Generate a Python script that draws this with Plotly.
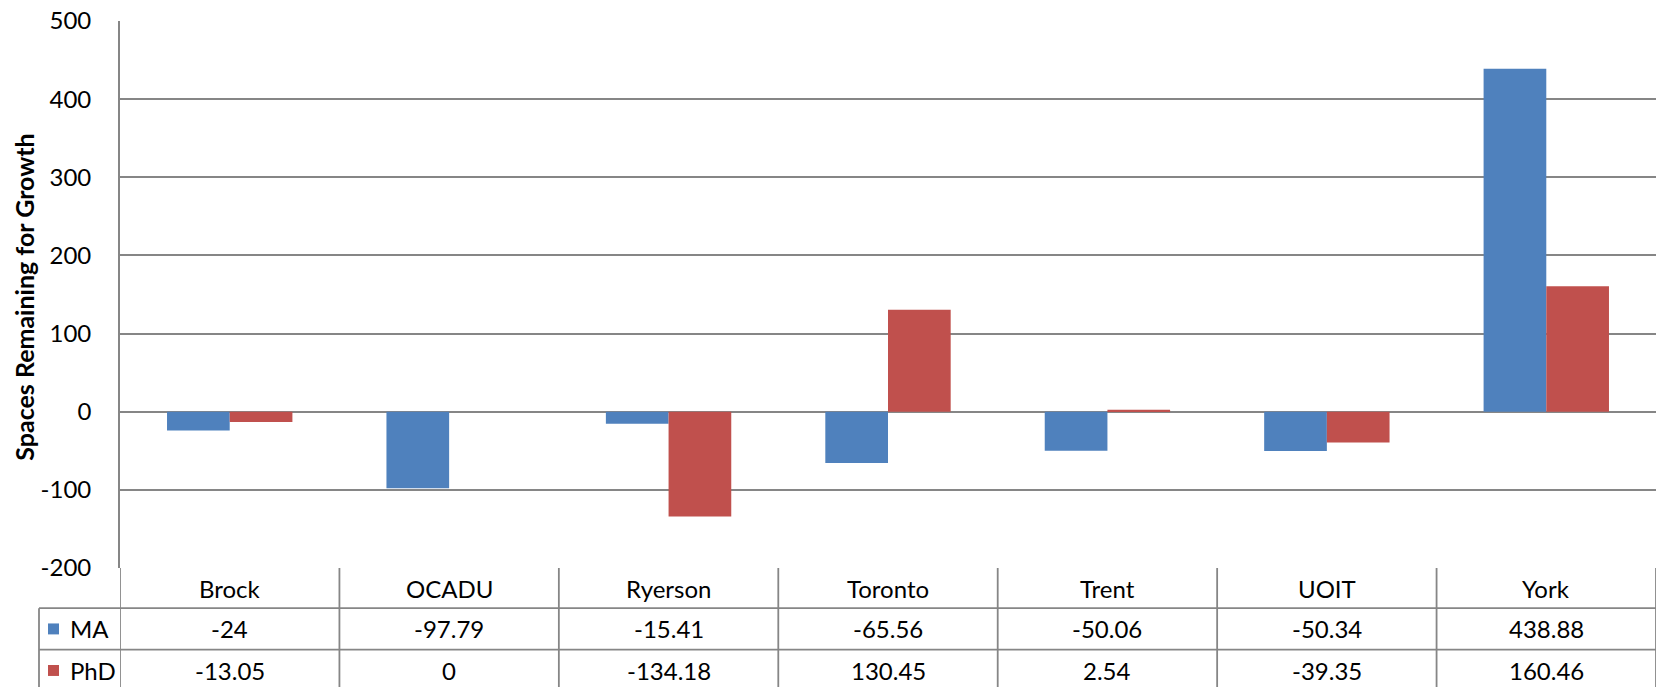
import plotly.graph_objects as go

# Graduate spaces remaining for growth, by institution
universities = ["Brock", "OCADU", "Ryerson", "Toronto", "Trent", "UOIT", "York"]
ma_values = [-24, -97.79, -15.41, -65.56, -50.06, -50.34, 438.88]
phd_values = [-13.05, 0, -134.18, 130.45, 2.54, -39.35, 160.46]
series_names = ["MA", "PhD"]
series_colors = ["#4F81BD", "#C0504D"]
y_ticks = [-200, -100, 0, 100, 200, 300, 400, 500]
y_tick_labels = ["-200", "-100", "0", "100", "200", "300", "400", "500"]

W, H = 1661, 687
M_L, M_R, M_T, M_B = 120, 5, 19, 119
PLOT_W = W - M_L - M_R
PLOT_H = H - M_T - M_B
BOTTOM = H - M_B  # pixel row of the plot's lower edge

FONT = "Lato, Carlito, Calibri, sans-serif"
GRID = "#868686"
FS = 24


def py(pixel_y):
    """Pixel row -> paper y."""
    return (BOTTOM - pixel_y) / PLOT_H


def px(pixel_x):
    """Pixel column -> paper x."""
    return (pixel_x - M_L) / PLOT_W


fig = go.Figure()
for name, vals, color in zip(series_names, [ma_values, phd_values], series_colors):
    fig.add_trace(go.Bar(
        x=list(range(len(universities))), y=vals, name=name,
        marker=dict(color=color, line=dict(width=0)),
    ))

# Data table rows below the plot
row_header = (BOTTOM, 608.3)
row_ma = (608.3, 650.0)
row_phd = (650.0, 691.7)
LEG_LEFT = 39

shapes = []
line = dict(color=GRID, width=1.8)
# horizontal rules
for yy in [row_ma[0], row_phd[0], row_phd[1]]:
    shapes.append(dict(type="line", xref="paper", yref="paper",
                       x0=px(LEG_LEFT), x1=1, y0=py(yy), y1=py(yy), line=line))
# vertical rules between categories, plus the axis continuing down
for k in range(len(universities) + 1):
    shapes.append(dict(type="line", xref="x", yref="paper",
                       x0=k - 0.5, x1=k - 0.5, y0=0, y1=py(H + 10), line=line))
# legend-column left edge
shapes.append(dict(type="line", xref="paper", yref="paper",
                   x0=px(LEG_LEFT), x1=px(LEG_LEFT), y0=py(row_ma[0]), y1=py(H + 10), line=line))

annotations = []
tfont = dict(family=FONT, size=FS, color="black")
for i, u in enumerate(universities):
    annotations.append(dict(x=i, y=py(sum(row_header) / 2), xref="x", yref="paper",
                            text=u, showarrow=False, font=tfont, yanchor="middle"))
    for row, vals in [(row_ma, ma_values), (row_phd, phd_values)]:
        annotations.append(dict(x=i, y=py(sum(row) / 2), xref="x", yref="paper",
                                text=f"{vals[i]:g}", showarrow=False, font=tfont,
                                yanchor="middle"))

# legend keys inside the table
for row, name, color in zip([row_ma, row_phd], series_names, series_colors):
    cy = sum(row) / 2
    shapes.append(dict(type="rect", xref="paper", yref="paper",
                       x0=px(48), x1=px(59), y0=py(cy - 5.5), y1=py(cy + 5.5),
                       fillcolor=color, line=dict(width=0)))
    annotations.append(dict(x=px(68), y=py(cy), xref="paper", yref="paper",
                            text=name, showarrow=False, font=tfont,
                            xanchor="left", yanchor="middle"))

# rotated axis title
annotations.append(dict(x=px(24), y=py(296.7), xref="paper", yref="paper",
                        text="<b>Spaces Remaining for Growth</b>", textangle=-90,
                        showarrow=False, font=dict(family=FONT, size=25, color="black"),
                        xanchor="center", yanchor="middle"))

fig.update_layout(
    width=W, height=H,
    margin=dict(l=M_L, r=M_R, t=M_T, b=M_B, pad=0),
    paper_bgcolor="white", plot_bgcolor="white",
    barmode="group", bargap=0.4286, bargroupgap=0,
    showlegend=False,
    font=dict(family=FONT, size=FS, color="black"),
    xaxis=dict(range=[-0.5, len(universities) - 0.5], showticklabels=False,
               showgrid=False, zeroline=False, showline=False, fixedrange=True),
    yaxis=dict(range=[-200, 500], tickvals=y_ticks, ticktext=y_tick_labels,
               showgrid=True, gridcolor=GRID,
               gridwidth=1.8, zeroline=True, zerolinecolor=GRID, zerolinewidth=1.8,
               showline=True, linecolor=GRID, linewidth=1.8, ticks="",
               ticklabelstandoff=22, tickfont=dict(family=FONT, size=FS, color="black"),
               fixedrange=True),
    shapes=shapes, annotations=annotations,
)

fig.write_html("out.html")
